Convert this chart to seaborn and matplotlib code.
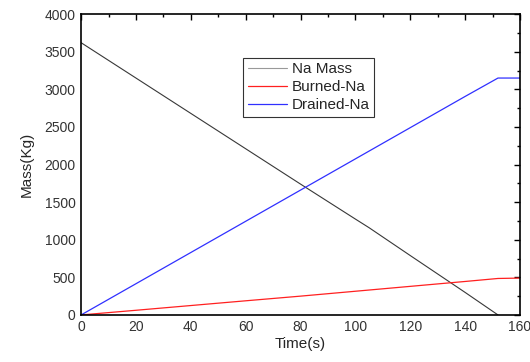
import numpy as np
import pandas as pd
import matplotlib
matplotlib.use('Agg')
import matplotlib.pyplot as plt
import seaborn as sns
from matplotlib.ticker import MultipleLocator

# data
na_time = [0, 20, 40, 60, 80, 100, 105, 120, 140, 152]
na_mass = [3620, 3150, 2680, 2210, 1740, 1275, 1160, 790, 300, 0]

burn_time = [0, 20, 40, 60, 80, 100, 120, 140, 152, 160]
burned_na = [0, 62, 125, 188, 250, 315, 380, 445, 485, 490]

drain_time = [0, 20, 40, 60, 80, 100, 120, 140, 152, 160]
drained_na = [0, 415, 830, 1245, 1660, 2075, 2490, 2905, 3150, 3150]

sns.set_style('white')
plt.rcParams['font.family'] = ['Liberation Sans', 'DejaVu Sans']

fig = plt.figure(figsize=(5.3, 3.62), dpi=100)
ax = fig.add_axes([0.153, 0.130, 0.828, 0.831])

sns.lineplot(x=na_time, y=na_mass, ax=ax, color='#383838', linewidth=0.8, label='Na Mass')
sns.lineplot(x=burn_time, y=burned_na, ax=ax, color='#ff2020', linewidth=0.9, label='Burned-Na')
sns.lineplot(x=drain_time, y=drained_na, ax=ax, color='#3030ff', linewidth=0.9, label='Drained-Na')

ax.set_xlim(0, 160)
ax.set_ylim(0, 4000)
ax.xaxis.set_major_locator(MultipleLocator(20))
ax.xaxis.set_minor_locator(MultipleLocator(10))
ax.yaxis.set_major_locator(MultipleLocator(500))
ax.yaxis.set_minor_locator(MultipleLocator(250))
ax.tick_params(which='both', direction='in', top=True, right=True,
               labelsize=10, labelcolor='#333333', color='black', width=1.0)
ax.tick_params(which='major', length=4, pad=4)
ax.tick_params(which='minor', length=2.5)
for s in ax.spines.values():
    s.set_color('black')
    s.set_linewidth(1.2)

ax.set_xlabel('Time(s)', fontsize=11, labelpad=2)
ax.set_ylabel('Mass(Kg)', fontsize=11, labelpad=8)

leg = ax.legend(loc='upper left', bbox_to_anchor=(0.369, 0.855), fontsize=11,
                frameon=True, fancybox=False, edgecolor='black',
                handlelength=2.6, borderpad=0.3, labelspacing=0.25, handletextpad=0.3,
                borderaxespad=0)
leg.get_frame().set_linewidth(0.8)
leg.legend_handles[0].set_color('#999999')

fig.savefig('out.png', dpi=100)
